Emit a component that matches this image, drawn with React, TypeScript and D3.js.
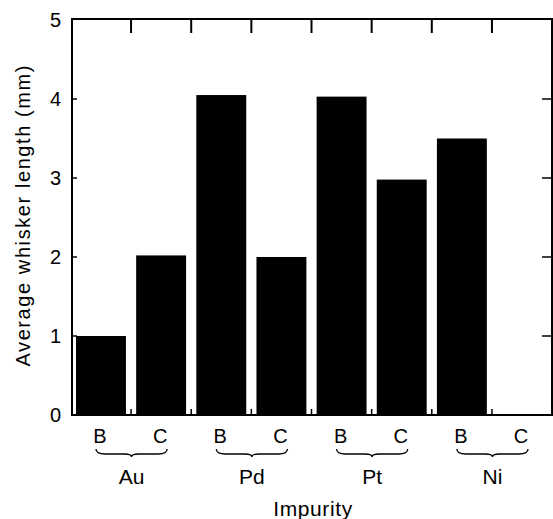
import React from "react";
import * as d3 from "d3";

// Impurity groups, each with a B and a C bar
const groups = ["Au", "Pd", "Pt", "Ni"];
const conditions = ["B", "C"];
// Average whisker length (mm), in order Au B, Au C, Pd B, Pd C, ...
const lengths = [1.0, 2.02, 4.05, 2.0, 4.03, 2.98, 3.5, 0];
const yTicks = [0, 1, 2, 3, 4, 5];

const font = "'Liberation Sans', Arial, Helvetica, sans-serif";

export default function App() {
  const width = 553;
  const height = 519;
  const top = 19;
  const bottom = 415;
  const left = 72;
  const right = 552;

  const keys = groups.flatMap((g) => conditions.map((c) => `${g}-${c}`));
  const bars = keys.map((k, i) => ({ key: k, group: k.split("-")[0], cond: k.split("-")[1], value: lengths[i] }));

  const x = d3.scaleBand<string>().domain(keys).range([70, 553]).paddingInner(0.17).paddingOuter(0.1);
  const y = d3.scaleLinear().domain([0, 5]).range([bottom, top + 1]);

  const bw = x.bandwidth();
  const gap = x.step() - bw;
  // tick positions between neighbouring bars
  const between = keys.slice(0, -1).map((k) => (x(k) as number) + bw + gap / 2);

  // brace under each pair
  function brace(x1: number, x2: number, y0: number) {
    const mid = (x1 + x2) / 2;
    const d = 5;
    return `M${x1},${y0} Q${x1},${y0 + d} ${x1 + 9},${y0 + d} L${mid - 7},${y0 + d} Q${mid},${y0 + d} ${mid},${y0 + d + 3} Q${mid},${y0 + d} ${mid + 7},${y0 + d} L${x2 - 9},${y0 + d} Q${x2},${y0 + d} ${x2},${y0}`;
  }

  return (
    <svg width={width} height={height} style={{ position: "absolute", left: 0, top: 0 }} fontFamily={font}>
      <rect width={width} height={height} fill="#fff" />

      {/* bars */}
      {bars.map((b) => (
        <rect key={b.key} x={x(b.key)} y={y(b.value)} width={bw} height={bottom - y(b.value)} fill="#000" />
      ))}

      {/* frame */}
      <path d={`M${left},${bottom} L${left},${top} L${right},${top} L${right},${bottom} Z`} fill="none" stroke="#000" strokeWidth={2} />

      {/* y ticks, left inward and right inward */}
      {yTicks.slice(1, -1).map((t) => (
        <g key={t}>
          <line x1={left} x2={left + 5} y1={y(t)} y2={y(t)} stroke="#000" strokeWidth={1.5} />
          <line x1={right - 10} x2={right} y1={y(t)} y2={y(t)} stroke="#000" strokeWidth={1.5} />
        </g>
      ))}
      {yTicks.map((t) => (
        <text key={t} x={61} y={y(t)} dy="0.36em" textAnchor="end" fontSize={20}>
          {t}
        </text>
      ))}

      {/* ticks between bars, top and bottom */}
      {between.map((bx, i) => (
        <g key={i}>
          <line x1={bx} x2={bx} y1={top} y2={top + 14} stroke="#000" strokeWidth={2} />
          <line x1={bx} x2={bx} y1={bottom} y2={bottom - 6} stroke="#000" strokeWidth={1.5} />
        </g>
      ))}

      {/* B / C labels */}
      {bars.map((b) => (
        <text key={b.key} x={(x(b.key) as number) + bw / 2 - 1} y={443} textAnchor="middle" fontSize={20}>
          {b.cond}
        </text>
      ))}

      {/* braces and group labels */}
      {groups.map((g) => {
        const xb = (x(`${g}-B`) as number) + bw / 2 - 5;
        const xc = (x(`${g}-C`) as number) + bw / 2 + 6;
        const mid = (xb + xc) / 2;
        return (
          <g key={g}>
            <path d={brace(xb, xc, 449)} fill="none" stroke="#000" strokeWidth={1.3} />
            <text x={mid} y={484} textAnchor="middle" fontSize={21}>
              {g}
            </text>
          </g>
        );
      })}

      <text x={313} y={516} textAnchor="middle" fontSize={21} letterSpacing={0.6}>
        Impurity
      </text>
      <text
        transform="translate(30,216) rotate(-90)"
        textAnchor="middle"
        fontSize={20}
        textLength={301}
        lengthAdjust="spacing"
      >
        Average whisker length (mm)
      </text>
    </svg>
  );
}
